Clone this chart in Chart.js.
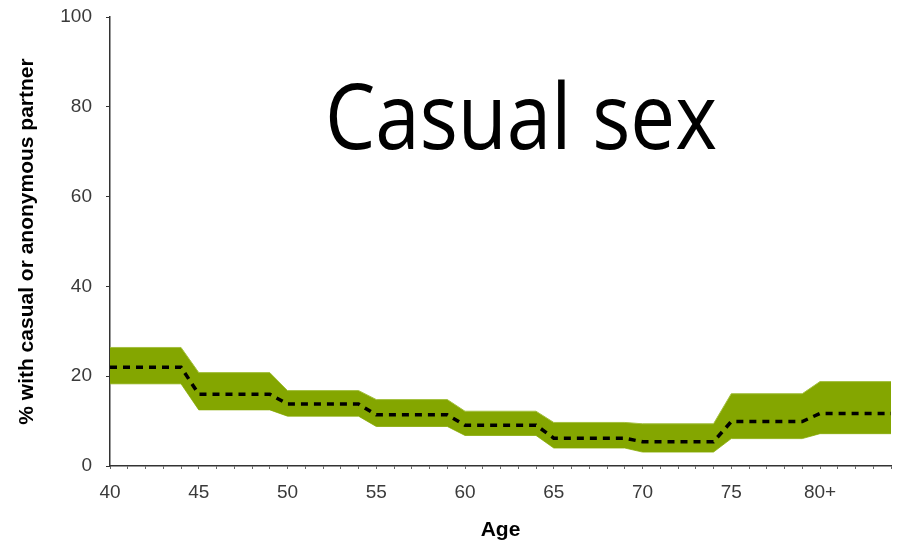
<!DOCTYPE html>
<html lang="en">
<head>
  <meta charset="UTF-8">
  <title>Casual sex</title>
  <script src="https://cdn.jsdelivr.net/npm/chart.js"></script>
  <style>
    html, body {
      margin: 0;
      padding: 0;
      background: #fff;
    }
    .wrap {
      position: relative;
      width: 900px;
      height: 542px;
    }
    /* big slide title sitting over the plot */
    .big-title {
      position: absolute;
      left: 325px;
      top: 68px;
      font-family: "Open Sans", sans-serif;
      font-size: 92px;
      line-height: 1;
      color: #000;
      white-space: nowrap;
      transform-origin: left top;
    }
  </style>
</head>
<body>
  <div class="wrap">
    <canvas id="chart" width="900" height="542"></canvas>
    <div class="big-title" id="bigTitle">Casual sex</div>
  </div>

  <script>
    // age groups (start of each 5-year band) and their tick labels
    const ageGroups = [40, 45, 50, 55, 60, 65, 70, 75, 80];
    const ageLabels = ['40', '45', '50', '55', '60', '65', '70', '75', '80+'];

    // % with casual or anonymous partner, per age group
    const estimate = [22.0, 16.0, 13.8, 11.4, 9.1, 6.2, 5.4, 9.9, 11.7];
    const upperCI  = [26.4, 20.8, 16.8, 14.8, 12.2, 9.7, 9.4, 16.1, 18.8];
    const lowerCI  = [18.3, 12.5, 11.1, 8.8, 6.8, 4.0, 3.1, 6.1, 7.2];

    // each group is flat over its five years (start .. start+4)
    function steps(values) {
      const pts = [];
      ageGroups.forEach((a, i) => {
        pts.push({ x: a, y: values[i] });
        pts.push({ x: a + 4, y: values[i] });
      });
      return pts;
    }

    const green = '#84a600';
    const axisColor = '#333';

    new Chart(document.getElementById('chart'), {
      type: 'line',
      data: {
        datasets: [
          {
            label: 'upper',
            data: steps(upperCI),
            borderColor: '#a4c040',
            borderWidth: 1,
            backgroundColor: green,
            pointRadius: 0,
            fill: '+1',
            tension: 0,
            order: 2
          },
          {
            label: 'lower',
            data: steps(lowerCI),
            borderColor: '#a4c040',
            borderWidth: 1,
            pointRadius: 0,
            fill: false,
            tension: 0,
            order: 2
          },
          {
            // dashed line goes on top of the band
            label: 'estimate',
            data: steps(estimate),
            borderColor: '#000',
            borderWidth: 3.5,
            borderDash: [7, 6],
            pointRadius: 0,
            fill: false,
            tension: 0,
            order: 0
          }
        ]
      },
      options: {
        responsive: false,
        animation: false,
        layout: { padding: { top: 17, right: 9, left: 0, bottom: 0 } },
        plugins: {
          legend: { display: false },
          tooltip: { enabled: false }
        },
        scales: {
          x: {
            type: 'linear',
            min: 40,
            max: 84,
            afterFit: (s) => {
              s.height = 76;
              s.paddingLeft = 0;
              s.paddingRight = 0;
            },
            border: { color: axisColor, width: 1.5 },
            grid: {
              display: true,
              drawOnChartArea: false,
              drawTicks: true,
              tickLength: 3,
              color: '#666'
            },
            ticks: {
              stepSize: 1,
              autoSkip: false,
              maxRotation: 0,
              padding: 12,
              color: '#3a3a3a',
              font: { family: 'Liberation Sans', size: 19 },
              callback: (v) => {
                const i = ageGroups.indexOf(v);
                return i >= 0 ? ageLabels[i] : '';
              }
            },
            title: {
              display: true,
              text: 'Age',
              color: '#000',
              padding: { top: 0, bottom: 0 },
              font: { family: 'Liberation Sans', size: 21, weight: 'bold', lineHeight: 1.1 }
            }
          },
          y: {
            min: 0,
            max: 100,
            afterFit: (s) => {
              s.width = 110;
              s.paddingTop = 0;
              s.paddingBottom = 0;
            },
            border: { color: axisColor, width: 1.5 },
            grid: {
              display: true,
              drawOnChartArea: false,
              drawTicks: true,
              tickLength: 4,
              color: '#333'
            },
            ticks: {
              stepSize: 20,
              padding: 14,
              color: '#3a3a3a',
              font: { family: 'Liberation Sans', size: 19 }
            },
            title: {
              display: true,
              text: '% with casual or anonymous partner',
              color: '#000',
              padding: { top: 15, bottom: 0 },
              font: { family: 'Liberation Sans', size: 21, weight: 'bold', lineHeight: 1.2 }
            }
          }
        }
      }
    });

    // squeeze the title to the width it has on the slide
    const bt = document.getElementById('bigTitle');
    const w = bt.getBoundingClientRect().width;
    bt.style.transform = 'scaleX(' + (392 / w) + ')';
  </script>
</body>
</html>
